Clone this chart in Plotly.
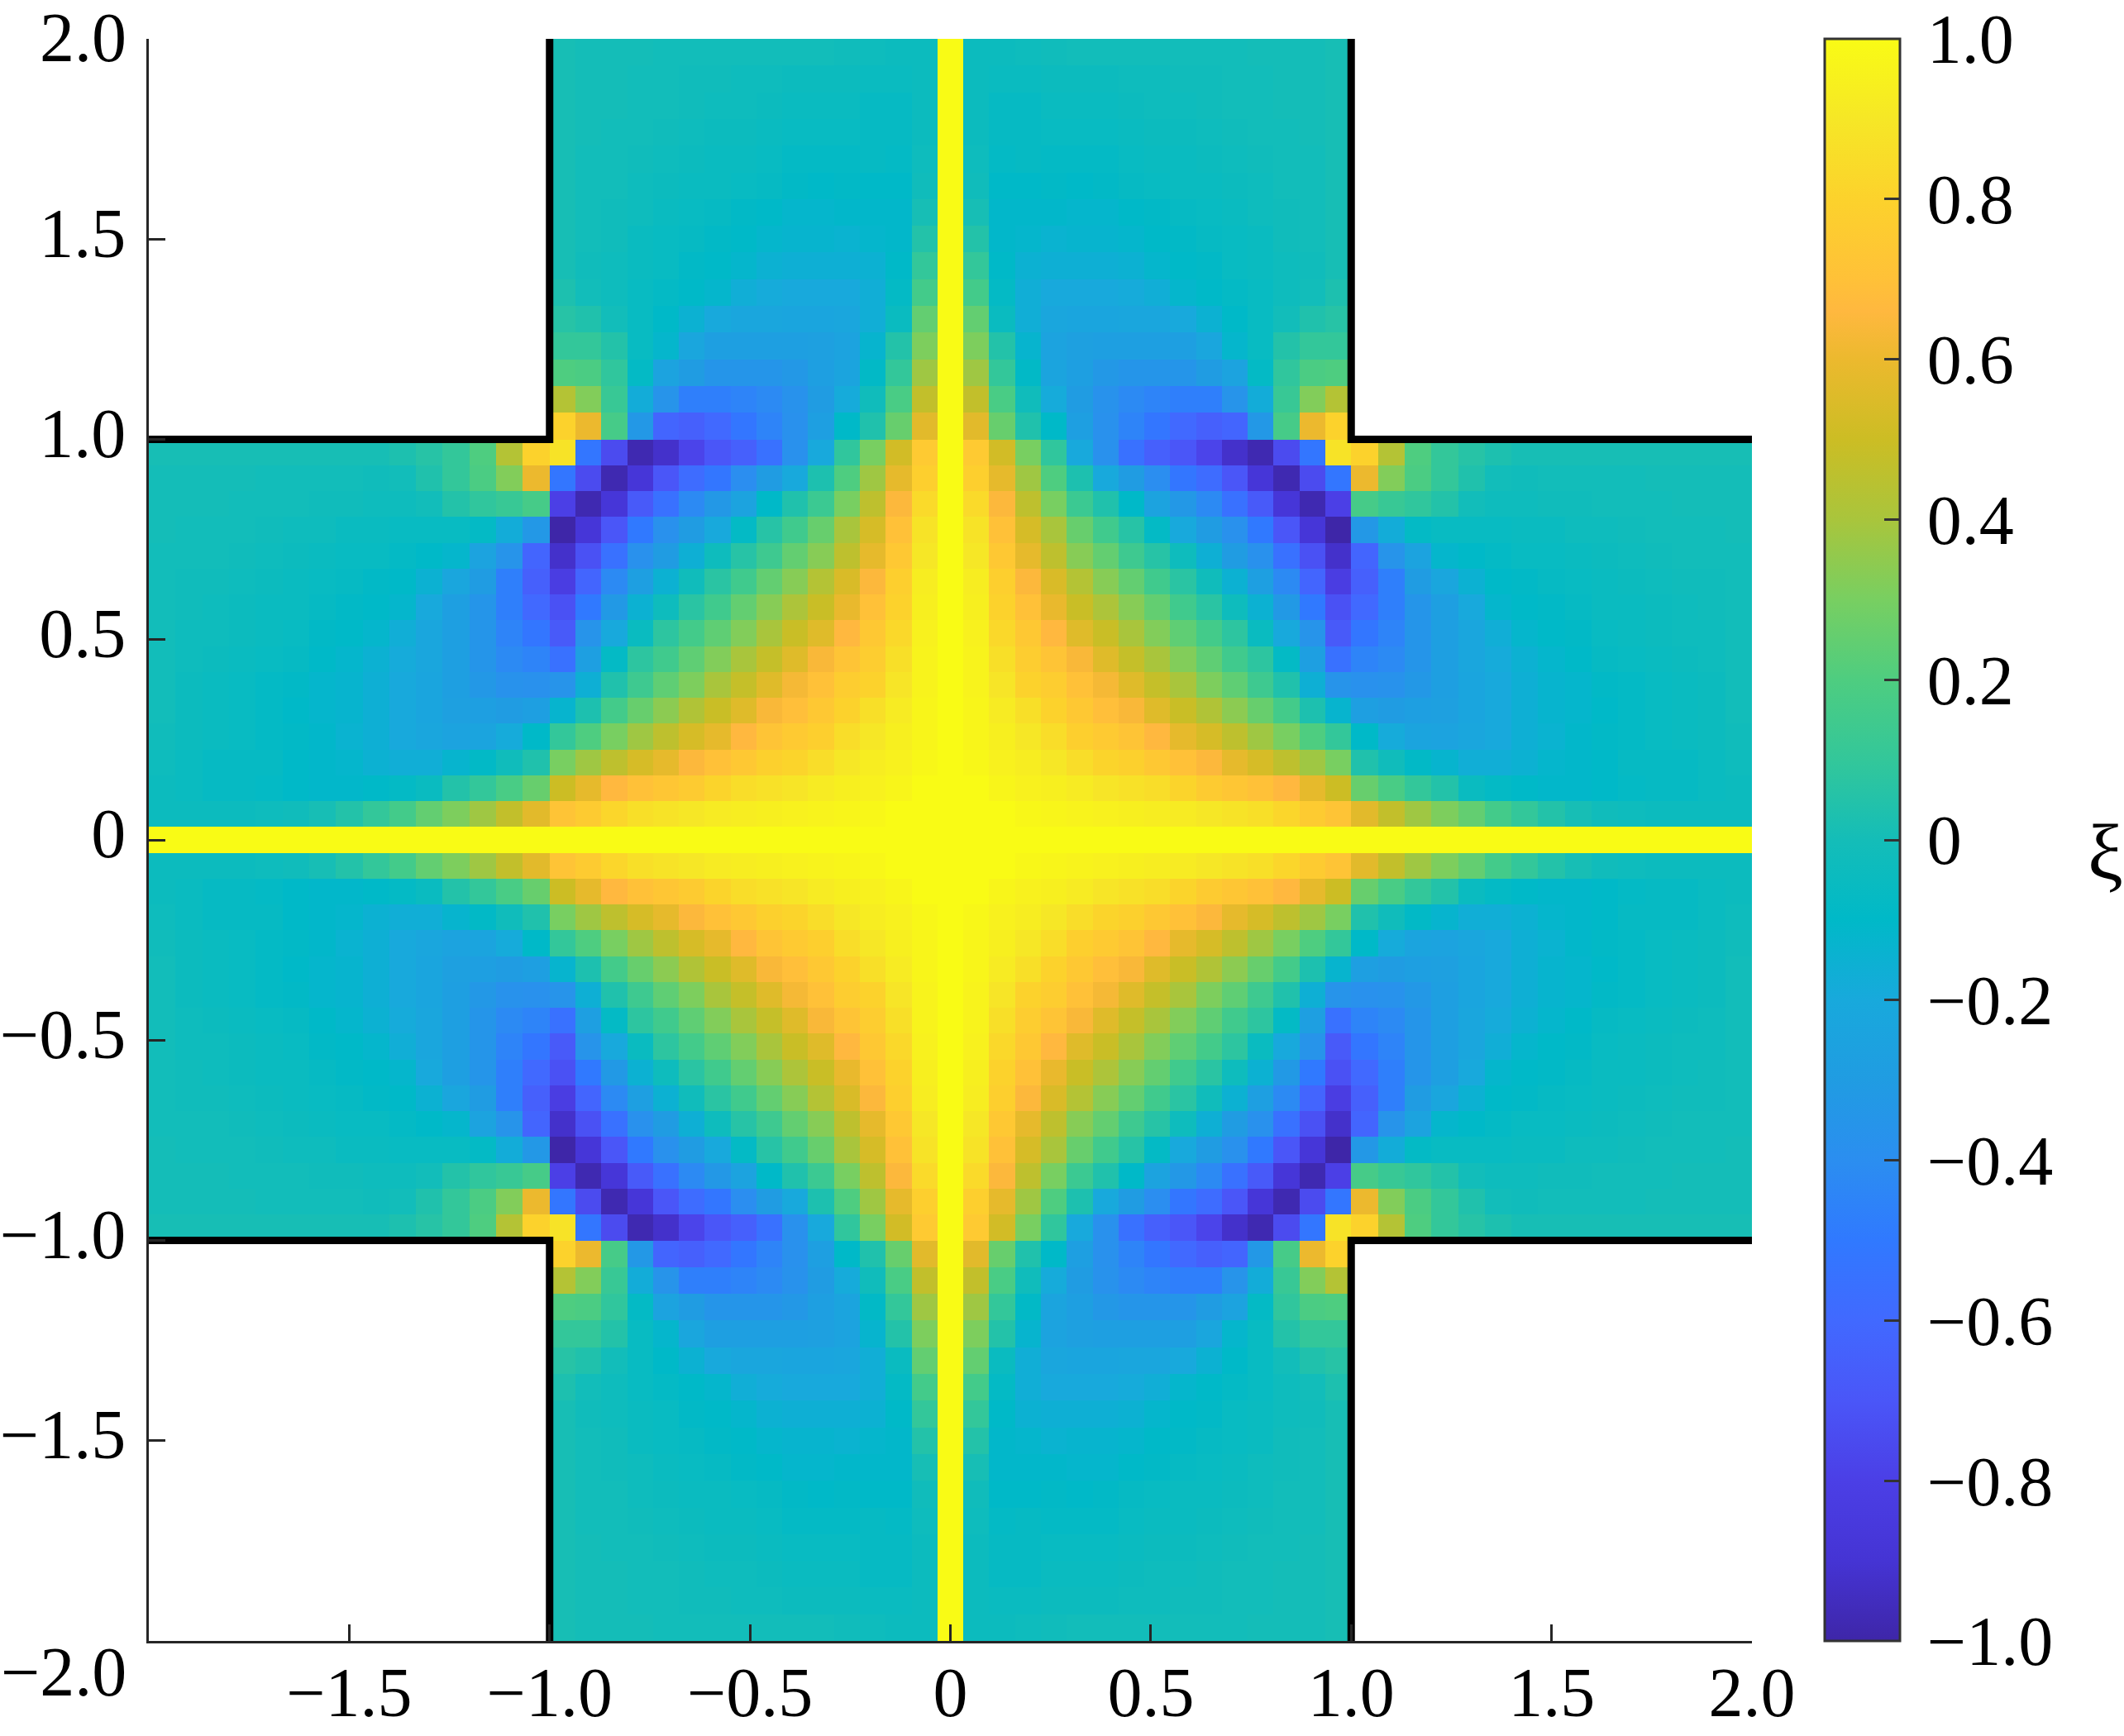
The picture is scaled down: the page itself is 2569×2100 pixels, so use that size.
import numpy as np
import plotly.graph_objects as go

# Quadrant of the central square; rows run from y=0 outward, columns from x=0 outward
CORE_ROW_00 = [1.0]*16
CORE_ROW_01 = [1,1,1,.98,.97,.96,.95,.94,.93,.92,.90,.88,.86,.82,.76,.72]
CORE_ROW_02 = [1,1,.97,.95,.94,.92,.89,.87,.85,.81,.76,.73,.70,.66,.58,.50]
CORE_ROW_03 = [1,.98,.95,.93,.90,.85,.81,.79,.74,.70,.65,.58,.53,.46,.38,.30]
CORE_ROW_04 = [1,.97,.94,.90,.85,.78,.75,.72,.66,.58,.53,.46,.38,.30,.20,.10]
CORE_ROW_05 = [1,.97,.92,.86,.80,.74,.69,.64,.56,.49,.42,.34,.26,.16,.03,-.13]
CORE_ROW_06 = [1,.96,.89,.80,.77,.70,.63,.56,.48,.40,.31,.24,.14,.04,-.16,-.36]
CORE_ROW_07 = [1,.96,.86,.77,.72,.64,.56,.48,.40,.32,.24,.15,.08,-.08,-.28,-.55]
CORE_ROW_08 = [1,.95,.83,.74,.66,.56,.49,.40,.32,.24,.16,.08,-.05,-.20,-.36,-.68]
CORE_ROW_09 = [1,.94,.80,.70,.59,.49,.41,.33,.25,.15,.07,-.03,-.15,-.32,-.50,-.72]
CORE_ROW_10 = [1,.93,.78,.65,.54,.43,.33,.25,.15,.07,-.02,-.15,-.28,-.42,-.62,-.82]
CORE_ROW_11 = [1,.90,.74,.58,.46,.33,.25,.14,.06,-.03,-.16,-.30,-.38,-.55,-.72,-.92]
CORE_ROW_12 = [1,.88,.70,.53,.40,.26,.15,.06,-.08,-.20,-.30,-.38,-.50,-.70,-.88,-1.0]
CORE_ROW_13 = [1,.84,.65,.46,.30,.13,.04,-.10,-.25,-.33,-.42,-.55,-.68,-.88,-.98,-.80]
CORE_ROW_14 = [1,.78,.58,.38,.20,.03,-.20,-.30,-.40,-.52,-.58,-.70,-.88,-.98,-.75,-.52]
CORE_ROW_15 = [1,.75,.52,.30,.09,-.20,-.38,-.55,-.65,-.70,-.78,-.92,-.98,-.75,-.52,.88]
core = [CORE_ROW_00, CORE_ROW_01, CORE_ROW_02, CORE_ROW_03, CORE_ROW_04, CORE_ROW_05,
        CORE_ROW_06, CORE_ROW_07, CORE_ROW_08, CORE_ROW_09, CORE_ROW_10, CORE_ROW_11,
        CORE_ROW_12, CORE_ROW_13, CORE_ROW_14, CORE_ROW_15]

# Arm values: rows by lateral index from the centre line, columns from the junction outward
ARM_ROW_00 = [1.0]*15
ARM_ROW_01 = [.57,.47,.38,.31,.25,.16,.10,.05,.01,-.02,-.03,-.04,-.04,-.04,-.04]
ARM_ROW_02 = [.26,.18,.10,.05,-.05,-.08,-.10,-.11,-.11,-.10,-.08,-.07,-.07,-.05,-.04]
ARM_ROW_03 = [.04,-.02,-.09,-.13,-.17,-.17,-.15,-.12,-.11,-.10,-.07,-.07,-.07,-.05,-.03]
ARM_ROW_04 = [-.10,-.19,-.24,-.25,-.22,-.20,-.16,-.14,-.11,-.09,-.08,-.06,-.05,-.04,-.02]
ARM_ROW_05 = [-.28,-.30,-.28,-.27,-.23,-.20,-.16,-.13,-.12,-.10,-.08,-.06,-.05,-.04,-.01]
ARM_ROW_06 = [-.38,-.37,-.33,-.28,-.23,-.20,-.16,-.13,-.12,-.09,-.08,-.06,-.05,-.04,-.01]
ARM_ROW_07 = [-.45,-.42,-.35,-.28,-.22,-.19,-.15,-.12,-.10,-.07,-.06,-.05,-.04,-.03,-.01]
ARM_ROW_08 = [-.52,-.45,-.35,-.28,-.22,-.17,-.12,-.10,-.09,-.06,-.05,-.04,-.03,-.03,-.01]
ARM_ROW_09 = [-.60,-.47,-.35,-.28,-.20,-.12,-.10,-.09,-.07,-.05,-.05,-.04,-.03,-.02,-.01]
ARM_ROW_10 = [-.65,-.47,-.30,-.22,-.15,-.10,-.09,-.07,-.06,-.05,-.04,-.03,-.02,-.02,-.01]
ARM_ROW_11 = [-.62,-.36,-.25,-.12,-.10,-.08,-.06,-.06,-.05,-.04,-.03,-.02,-.01,-.01,-.01]
ARM_ROW_12 = [-.33,-.18,-.08,-.06,-.06,-.06,-.05,-.05,-.03,-.03,-.02,-.01,-.01,-.01,0]
ARM_ROW_13 = [.17,.12,.09,.05,-.01,-.03,-.03,-.02,-.02,-.01,-.01,-.01,0,0,0]
ARM_ROW_14 = [.60,.32,.19,.10,.04,-.01,-.02,-.01,-.01,-.01,-.01,0,0,0,0]
ARM_ROW_15 = [.80,.43,.20,.10,.06,.03,.01,.01,.01,.01,.01,.01,.01,.01,.01]
arm = [ARM_ROW_00, ARM_ROW_01, ARM_ROW_02, ARM_ROW_03, ARM_ROW_04, ARM_ROW_05,
       ARM_ROW_06, ARM_ROW_07, ARM_ROW_08, ARM_ROW_09, ARM_ROW_10, ARM_ROW_11,
       ARM_ROW_12, ARM_ROW_13, ARM_ROW_14, ARM_ROW_15]

AXIS_TICKS = [-2.0, -1.5, -1.0, -0.5, 0, 0.5, 1.0, 1.5, 2.0]
X_TICK_LABELS = ["", "−1.5", "−1.0", "−0.5", "0", "0.5", "1.0", "1.5", "2.0"]
Y_TICK_LABELS = ["", "−1.5", "−1.0", "−0.5", "0", "0.5", "1.0", "1.5", ""]
CB_TICKS = [-1.0, -0.8, -0.6, -0.4, -0.2, 0, 0.2, 0.4, 0.6, 0.8, 1.0]
CB_LABELS = ["−1.0", "−0.8", "−0.6", "−0.4", "−0.2", "0", "0.2", "0.4", "0.6", "0.8", "1.0"]

COLOR_VALUES = [-1.0, -.9, -.8, -.7, -.6, -.5, -.4, -.3, -.2, -.1, 0, .1, .2, .3, .4, .5, .6, .66, .7, .8, .9, 1.0]
COLOR_HEX = ["#3e26a8", "#4534d4", "#4b3fe6", "#4a56f8", "#4169ff", "#3079ff", "#2b8ef0",
             "#209ce2", "#18a9dc", "#00b9c8", "#14bdb8", "#33c79a", "#4ecd80", "#78cf61",
             "#a9c53c", "#ccbd24", "#ecb92e", "#ffb83f", "#ffc138", "#fcd22c", "#f6e726", "#f9fb15"]

# Boundary of the cross, as (x, y) runs
OUTLINE_X = [-2, -1, -1, None, 1, 1, 2, None, 2, 1, 1, None, -1, -1, -2]
OUTLINE_Y = [1, 1, 2, None, 2, 1, 1, None, -1, -1, -2, None, -2, -1, -1]

n_core, n_arm = 15, 15
core_edges = [(2 * k + 1) / 31 for k in range(-n_core - 1, n_core + 1)]
arm_right = [1 + k / 15 for k in range(1, n_arm + 1)]
edges = [-v for v in reversed(arm_right)] + core_edges + arm_right

idx = list(range(-30, 31))
z = np.full((61, 61), np.nan)
for i, py in enumerate(idx):
    for j, px in enumerate(idx):
        ax, ay = abs(px), abs(py)
        if ax <= 15 and ay <= 15:
            z[i, j] = core[ay][ax]
        elif ay <= 15:
            z[i, j] = arm[ay][ax - 16]
        elif ax <= 15:
            z[i, j] = arm[ax][ay - 16]

colorscale = [[(v + 1) / 2, c] for v, c in zip(COLOR_VALUES, COLOR_HEX)]

FONT = dict(family="Liberation Serif", size=84, color="black")
AXC = "#262626"
W, H = 2569, 2100
L, R, T, B = 180, 2119, 47, 1985
PW, PH = R - L, B - T

fig = go.Figure()
fig.add_trace(go.Heatmap(
    x=edges, y=edges, z=z, zmin=-1, zmax=1, colorscale=colorscale, hoverongaps=False,
    colorbar=dict(
        x=(2207 - L) / PW, xanchor="left", xpad=0, ypad=0, y=0, yanchor="bottom", len=1,
        thicknessmode="pixels", thickness=91,
        outlinewidth=3, outlinecolor="#333333", borderwidth=0,
        tickmode="array", tickvals=CB_TICKS, ticktext=["\u200a\u200a" + t for t in CB_LABELS],
        ticks="inside", ticklen=20, tickwidth=3, tickcolor="#333333", tickfont=FONT,
    ),
))
fig.add_trace(go.Scatter(x=OUTLINE_X, y=OUTLINE_Y, mode="lines",
                         line=dict(color="black", width=9), connectgaps=False,
                         showlegend=False, hoverinfo="skip"))

axis_common = dict(range=[-2, 2], showgrid=False, zeroline=False, showline=True,
                   linecolor=AXC, linewidth=3, ticks="inside", ticklen=20, tickwidth=3,
                   tickcolor=AXC, tickmode="array", tickvals=AXIS_TICKS, tickfont=FONT,
                   automargin=False, mirror=False)
fig.update_layout(
    template="none", width=W, height=H, paper_bgcolor="white", plot_bgcolor="white",
    margin=dict(l=L, r=W - R, t=T, b=H - B, pad=0, autoexpand=False), showlegend=False,
    xaxis=dict(**axis_common, ticktext=X_TICK_LABELS, ticklabelstandoff=-13),
    yaxis=dict(**axis_common, ticktext=Y_TICK_LABELS, ticklabelstandoff=8, ticklabelshift=-8),
    annotations=[
        dict(text="−2.0", xref="paper", yref="paper", x=-(L - 155) / PW, y=-(2022 - B) / PH,
             xanchor="right", yanchor="middle", showarrow=False, font=FONT),
        dict(text="2.0", xref="paper", yref="paper", x=-(L - 155) / PW, y=(B - 46) / PH,
             xanchor="right", yanchor="middle", showarrow=False, font=FONT),
        dict(text="ξ", xref="paper", yref="paper", x=(2546 - L) / PW, y=(B - 1030) / PH,
             xanchor="center", yanchor="middle", showarrow=False,
             font=dict(family="Liberation Serif", size=96, color="black")),
    ],
)
fig.write_html("out.html", config={"displayModeBar": False},
               post_script="document.body.style.margin='0';document.body.style.overflow='hidden';")
